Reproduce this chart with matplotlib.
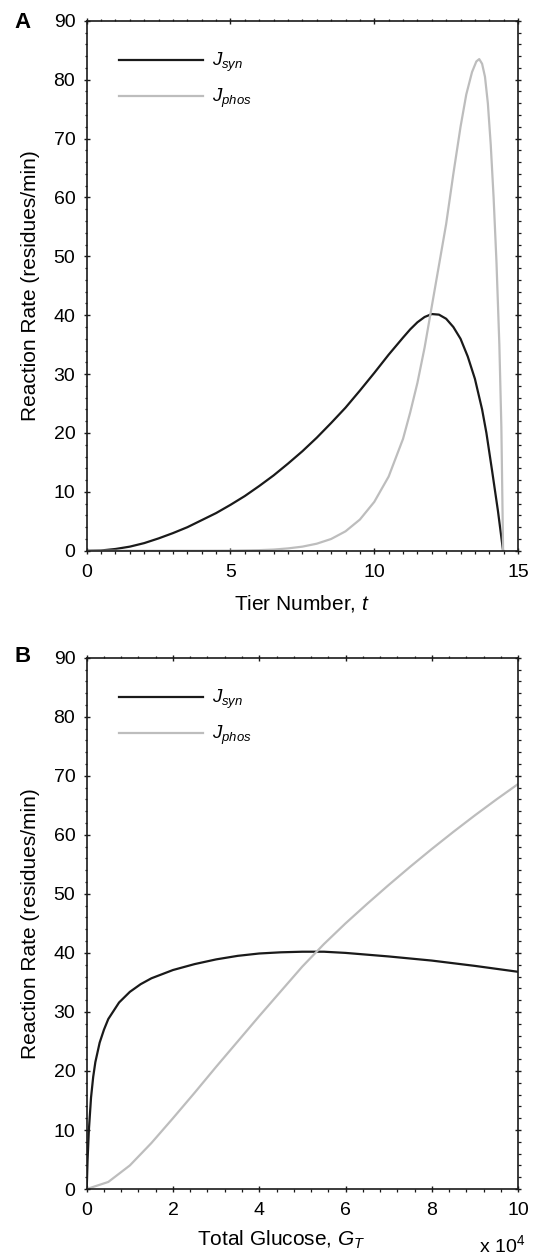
import matplotlib
matplotlib.use("Agg")
import matplotlib.pyplot as plt
from matplotlib.ticker import MultipleLocator

plt.rcParams['font.family'] = ['Liberation Sans', 'DejaVu Sans']
plt.rcParams['mathtext.fontset'] = 'custom'
plt.rcParams['mathtext.rm'] = 'Liberation Sans'
plt.rcParams['mathtext.it'] = 'Liberation Sans:italic'
plt.rcParams['mathtext.bf'] = 'Liberation Sans:bold'

# ---- Panel A data (tier number) ----
t_syn = [0, 0.5, 1, 1.5, 2, 2.5, 3, 3.5, 4, 4.5, 5, 5.5, 6, 6.5, 7, 7.5, 8, 8.5,
         9, 9.5, 10, 10.5, 11, 11.25, 11.5, 11.75, 12, 12.25, 12.5, 12.75, 13,
         13.25, 13.5, 13.75, 13.9, 14.1, 14.3, 14.48]
j_syn_a = [0, 0.05, 0.3, 0.7, 1.3, 2.1, 3.0, 4.0, 5.2, 6.4, 7.8, 9.3, 11.0, 12.8,
           14.8, 16.9, 19.2, 21.7, 24.3, 27.2, 30.2, 33.3, 36.2, 37.6, 38.8, 39.7,
           40.2, 40.1, 39.4, 38.0, 36.0, 33.0, 29.2, 24.0, 20.0, 13.5, 6.8, 0]

t_phos = [0, 1, 2, 3, 4, 5, 6, 6.5, 7, 7.5, 8, 8.5, 9, 9.5, 10, 10.5, 11, 11.25,
          11.5, 11.75, 12, 12.25, 12.5, 12.75, 13, 13.2, 13.4, 13.55, 13.65, 13.75,
          13.85, 13.95, 14.05, 14.15, 14.25, 14.35, 14.42, 14.48]
j_phos_a = [0, 0, 0, 0, 0, 0.02, 0.1, 0.2, 0.4, 0.7, 1.2, 2.0, 3.3, 5.3, 8.3, 12.6,
            19.0, 23.5, 28.5, 34.5, 41.5, 48.5, 55.5, 64.0, 72.0, 77.5, 81.3, 83.1,
            83.5, 82.7, 80.5, 76.0, 69.0, 60.0, 49.0, 35.0, 21.0, 0]

# ---- Panel B data (total glucose, x 10^4) ----
g_syn = [0, 0.02, 0.05, 0.1, 0.15, 0.2, 0.3, 0.4, 0.5, 0.75, 1, 1.25, 1.5, 2, 2.5,
         3, 3.5, 4, 4.5, 5, 5.5, 6, 7, 8, 9, 10]
j_syn_b = [0, 5, 10, 15.5, 19, 21.5, 24.8, 27, 28.8, 31.6, 33.4, 34.7, 35.7, 37.1,
           38.1, 38.9, 39.5, 39.9, 40.1, 40.2, 40.2, 40.0, 39.4, 38.7, 37.8, 36.8]

g_phos = [0, 0.5, 1, 1.5, 2, 2.5, 3, 3.5, 4, 4.5, 5, 5.5, 6, 6.5, 7, 7.5, 8, 8.5,
          9, 9.5, 10]
j_phos_b = [0, 1.2, 4.0, 7.8, 12.0, 16.3, 20.7, 25.0, 29.3, 33.5, 37.7, 41.5, 45.0,
            48.3, 51.5, 54.6, 57.6, 60.5, 63.3, 66.0, 68.6]

labels = ['$J_{syn}$', '$J_{phos}$']
black = '#1a1a1a'
gray = '#bdbdbd'

fig = plt.figure(figsize=(5.36, 12.54), dpi=100)
axA = fig.add_axes([0.1618, 0.5608, 0.8047, 0.4226])
axB = fig.add_axes([0.1618, 0.0518, 0.8047, 0.4237])

def style(ax, xmax, xmajor, xminor):
    ax.set_xlim(0, xmax)
    ax.set_ylim(0, 90)
    ax.xaxis.set_major_locator(MultipleLocator(xmajor))
    ax.xaxis.set_minor_locator(MultipleLocator(xminor))
    ax.yaxis.set_major_locator(MultipleLocator(10))
    ax.yaxis.set_minor_locator(MultipleLocator(2))
    ax.tick_params(which='major', direction='inout', length=4.5, width=1.0,
                   top=True, right=True, labelsize=14, color='#1a1a1a')
    ax.tick_params(axis='x', which='major', pad=7)
    ax.tick_params(axis='y', which='major', pad=6)
    ax.tick_params(which='minor', direction='out', length=1.8, width=0.9,
                   top=True, right=True, color='#1a1a1a')
    for s in ax.spines.values():
        s.set_linewidth(1.2)
        s.set_color('#1a1a1a')
    ax.set_ylabel('Reaction Rate (residues/min)', fontsize=15, labelpad=10)
    ax.legend(frameon=False, loc='upper left', bbox_to_anchor=(0.035, 0.975),
              handlelength=4.5, fontsize=13.5, labelspacing=0.7,
              handletextpad=0.45)

axA.plot(t_syn, j_syn_a, color=black, lw=1.6, label=labels[0])
axA.plot(t_phos, j_phos_a, color=gray, lw=1.6, label=labels[1])
style(axA, 15, 5, 0.5)
axA.set_xlabel('Tier Number, $t$', fontsize=15, labelpad=9)

axB.plot(g_syn, j_syn_b, color=black, lw=1.6, label=labels[0])
axB.plot(g_phos, j_phos_b, color=gray, lw=1.6, label=labels[1])
style(axB, 10, 2, 0.4)
axB.set_xlabel('Total Glucose, $G_T$', fontsize=15, labelpad=5)
axB.xaxis.set_label_coords(0.45, -0.075)
axB.text(1.016, -0.105, 'x 10$^4$', transform=axB.transAxes, ha='right',
         va='center', fontsize=14)

fig.text(14 / 536, 1 - 22 / 1254, 'A', fontsize=16, fontweight='bold',
         ha='left', va='center')
fig.text(14 / 536, 1 - 657 / 1254, 'B', fontsize=16, fontweight='bold',
         ha='left', va='center')

fig.savefig('out.png', dpi=100)
